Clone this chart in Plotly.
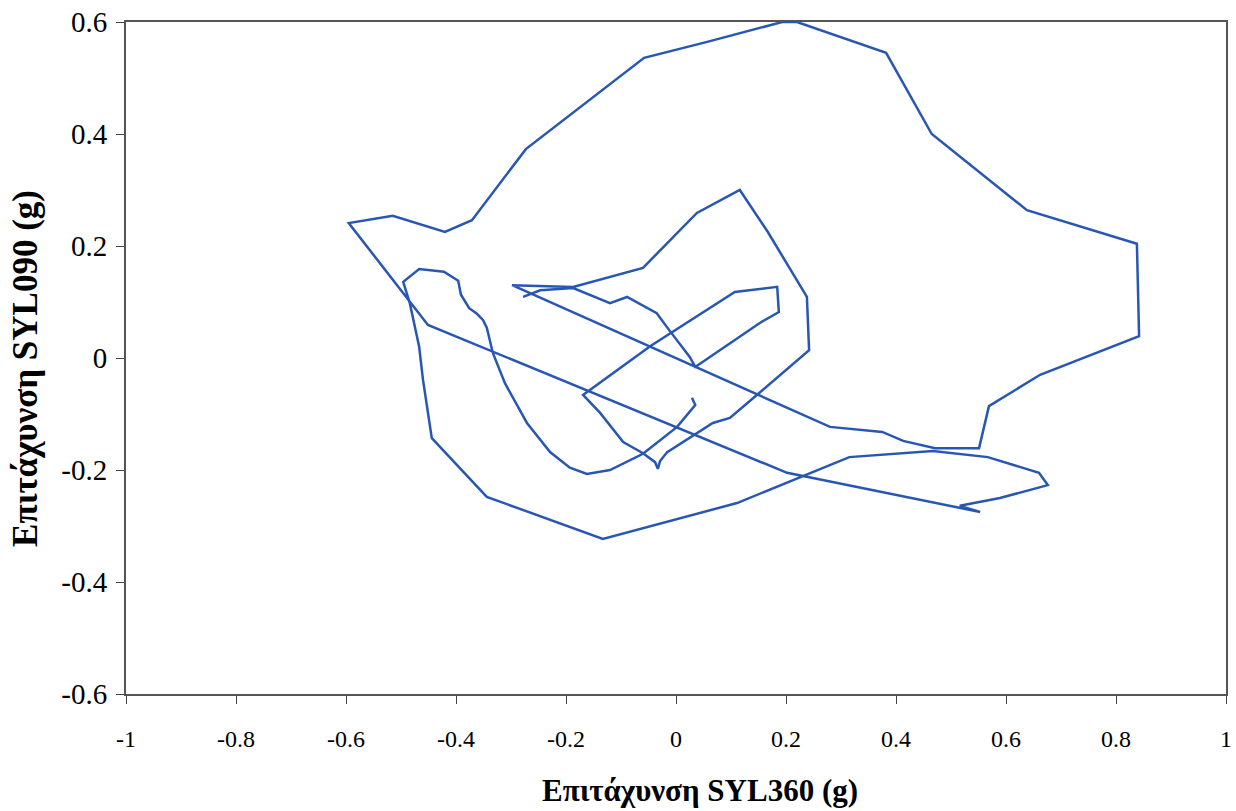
import plotly.graph_objects as go

# Acceleration trace (g)
syl360 = [-0.278, -0.247, -0.187, -0.120, -0.089, -0.035, -0.011, 0.025, 0.035, 0.153,
          0.187, 0.184, 0.107, -0.047, -0.169, -0.138, -0.096, -0.060, -0.038, -0.033,
          -0.029, -0.016, 0.067, 0.098, 0.147, 0.242, 0.238, 0.167, 0.116, 0.038,
          -0.060, -0.187, -0.298, 0.280, 0.375, 0.413, 0.471, 0.551, 0.569, 0.662,
          0.842, 0.838, 0.638, 0.465, 0.382, 0.220, 0.193, 0.055, -0.058, -0.273,
          -0.371, -0.420, -0.515, -0.595, -0.451, 0.202, 0.553, 0.516, 0.589, 0.676,
          0.660, 0.567, 0.467, 0.315, 0.111, -0.133, -0.344, -0.444, -0.460, -0.467,
          -0.484, -0.496, -0.467, -0.422, -0.396, -0.391, -0.376, -0.362, -0.351, -0.344,
          -0.333, -0.311, -0.271, -0.229, -0.193, -0.162, -0.120, -0.060, 0.002, 0.035,
          0.029]
syl090 = [0.109, 0.121, 0.125, 0.098, 0.109, 0.080, 0.048, 0.002, -0.016, 0.063,
          0.082, 0.127, 0.118, 0.021, -0.066, -0.098, -0.150, -0.170, -0.186, -0.198,
          -0.184, -0.168, -0.116, -0.107, -0.066, 0.014, 0.109, 0.225, 0.300, 0.259,
          0.161, 0.127, 0.130, -0.123, -0.132, -0.148, -0.161, -0.161, -0.086, -0.030,
          0.039, 0.204, 0.264, 0.400, 0.545, 0.600, 0.600, 0.564, 0.536, 0.373,
          0.246, 0.225, 0.254, 0.241, 0.059, -0.205, -0.275, -0.264, -0.250, -0.227,
          -0.205, -0.177, -0.166, -0.177, -0.259, -0.323, -0.248, -0.143, -0.039, 0.020,
          0.098, 0.136, 0.159, 0.154, 0.138, 0.113, 0.089, 0.079, 0.068, 0.054,
          0.009, -0.045, -0.116, -0.168, -0.196, -0.207, -0.200, -0.171, -0.123, -0.084,
          -0.071]

x_ticks = [-1, -0.8, -0.6, -0.4, -0.2, 0, 0.2, 0.4, 0.6, 0.8, 1]
x_labels = ["-1", "-0.8", "-0.6", "-0.4", "-0.2", "0", "0.2", "0.4", "0.6", "0.8", "1"]
y_ticks = [-0.6, -0.4, -0.2, 0, 0.2, 0.4, 0.6]
y_labels = ["-0.6", "-0.4", "-0.2", "0", "0.2", "0.4", "0.6"]

x_title = "Επιτάχυνση SYL360 (g)"
y_title = "Επιτάχυνση SYL090 (g)"

fig = go.Figure()
fig.add_trace(go.Scatter(x=syl360, y=syl090, mode="lines",
                         line=dict(color="#2857b3", width=2.5),
                         cliponaxis=True, showlegend=False))

font_serif = "Liberation Serif, Times New Roman, serif"
fig.update_layout(
    width=1236, height=811,
    margin=dict(l=126, r=10, t=22, b=117),
    paper_bgcolor="white", plot_bgcolor="white",
    font=dict(family=font_serif, color="black", size=24),
    annotations=[
        dict(text="<b>" + x_title + "</b>", xref="paper", yref="paper",
             x=0.522, y=-0.144, xanchor="center", yanchor="middle",
             showarrow=False, font=dict(size=31, family=font_serif)),
        dict(text="<b>" + y_title + "</b>", xref="paper", yref="paper",
             x=-0.092, y=0.485, xanchor="center", yanchor="middle", textangle=-90,
             showarrow=False, font=dict(size=35, family=font_serif)),
    ],
)
fig.update_xaxes(range=[-1, 1], tickvals=x_ticks, ticktext=x_labels,
                 ticks="outside", ticklen=8, tickcolor="#444", tickwidth=1,
                 showline=True, linecolor="#555", linewidth=2, mirror=True,
                 showgrid=False, zeroline=False, automargin=False,
                 ticklabelstandoff=14, ticklabeloverflow="allow",
                 tickfont=dict(size=24, family=font_serif))
fig.update_yaxes(range=[-0.6, 0.6], tickvals=y_ticks, ticktext=y_labels,
                 ticks="outside", ticklen=8, tickcolor="#444", tickwidth=1,
                 showline=True, linecolor="#555", linewidth=2, mirror=True,
                 showgrid=False, zeroline=False, automargin=False,
                 ticklabelstandoff=3, ticklabeloverflow="allow",
                 tickfont=dict(size=29, family=font_serif))
fig.write_html("out.html", config={"displayModeBar": False},
               post_script="document.body.style.margin='0';document.body.style.padding='0';")
